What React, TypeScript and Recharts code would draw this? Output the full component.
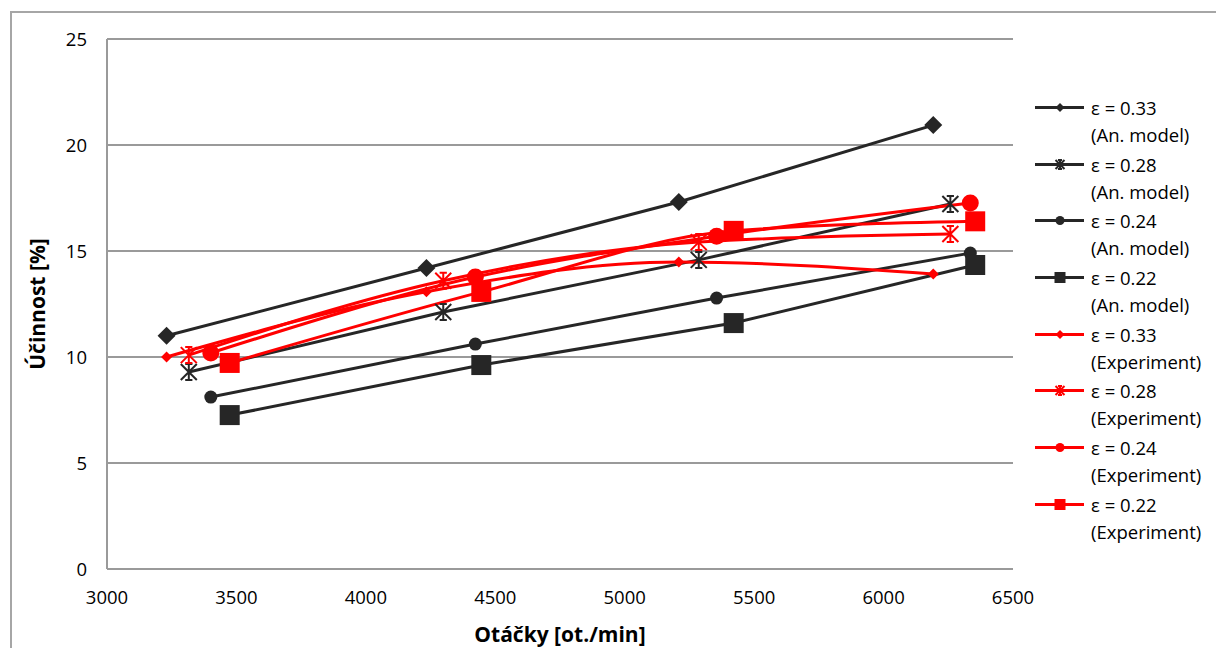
import React from 'react';
import { LineChart, Line, XAxis, YAxis, CartesianGrid } from 'recharts';

// otáčky [ot./min] a účinnost [%]
const rpm33 = [3230, 4234, 5209, 6192];
const rpm28 = [3316, 4299, 5286, 6258];
const rpm24 = [3401, 4423, 5355, 6335];
const rpm22 = [3474, 4446, 5421, 6354];

const anEff33 = [11.0, 14.2, 17.31, 20.94];
const anEff28 = [9.29, 12.12, 14.58, 17.22];
const anEff24 = [8.11, 10.61, 12.78, 14.9];
const anEff22 = [7.26, 9.62, 11.6, 14.34];

const expEff33 = [10.0, 13.08, 14.48, 13.92];
const expEff28 = [10.09, 13.6, 15.42, 15.8];
const expEff24 = [10.19, 13.77, 15.7, 17.26];
const expEff22 = [9.72, 13.07, 15.95, 16.4];

const xTicks = [3000, 3500, 4000, 4500, 5000, 5500, 6000, 6500];
const yTicks = [0, 5, 10, 15, 20, 25];

const BLACK = '#262626';
const RED = '#ff0000';

type Shape = 'diamond' | 'star' | 'circle' | 'square';

const zip = (xs: number[], ys: number[]) => xs.map((x, i) => ({ x, y: ys[i] }));

const series = [
  { name: 'ε = 0.33', note: '(An. model)', data: zip(rpm33, anEff33), color: BLACK, shape: 'diamond' as Shape, size: 9, smooth: false },
  { name: 'ε = 0.28', note: '(An. model)', data: zip(rpm28, anEff28), color: BLACK, shape: 'star' as Shape, size: 8, smooth: false },
  { name: 'ε = 0.24', note: '(An. model)', data: zip(rpm24, anEff24), color: BLACK, shape: 'circle' as Shape, size: 6.5, smooth: false },
  { name: 'ε = 0.22', note: '(An. model)', data: zip(rpm22, anEff22), color: BLACK, shape: 'square' as Shape, size: 10, smooth: false },
  { name: 'ε = 0.33', note: '(Experiment)', data: zip(rpm33, expEff33), color: RED, shape: 'diamond' as Shape, size: 5.5, smooth: true },
  { name: 'ε = 0.28', note: '(Experiment)', data: zip(rpm28, expEff28), color: RED, shape: 'star' as Shape, size: 8, smooth: true },
  { name: 'ε = 0.24', note: '(Experiment)', data: zip(rpm24, expEff24), color: RED, shape: 'circle' as Shape, size: 8.5, smooth: true },
  { name: 'ε = 0.22', note: '(Experiment)', data: zip(rpm22, expEff22), color: RED, shape: 'square' as Shape, size: 10, smooth: true },
];

function Marker({ cx, cy, shape, s, color }: { cx: number; cy: number; shape: Shape; s: number; color: string }) {
  if (shape === 'diamond') {
    return <path d={`M${cx},${cy - s}L${cx + s},${cy}L${cx},${cy + s}L${cx - s},${cy}Z`} fill={color} />;
  }
  if (shape === 'circle') {
    return <circle cx={cx} cy={cy} r={s} fill={color} />;
  }
  if (shape === 'square') {
    return <rect x={cx - s} y={cy - s} width={s * 2} height={s * 2} fill={color} />;
  }
  const h = s * 0.45;
  return (
    <path
      d={`M${cx},${cy - s}V${cy + s}M${cx - s},${cy - s}L${cx + s},${cy + s}M${cx + s},${cy - s}L${cx - s},${cy + s}M${cx - h},${cy - s}H${cx + h}M${cx - h},${cy + s}H${cx + h}`}
      stroke={color}
      strokeWidth={2}
      fill="none"
    />
  );
}

const font = '"Open Sans", sans-serif';

export default function App() {
  return (
    <div style={{ position: 'absolute', left: 0, top: 0, width: 1216, height: 648, background: '#fff', overflow: 'hidden', fontFamily: font }}>
      <div style={{ position: 'absolute', left: 10, top: 11, width: 1230, height: 660, border: '2px solid #a6a6a6' }} />
      <div style={{ position: 'absolute', left: 0, top: 0 }}>
        <LineChart width={1216} height={648} margin={{ top: 39, right: 203, bottom: 49, left: 47 }}>
          <CartesianGrid horizontal vertical={false} stroke="#9a9a9a" strokeWidth={2} />
          <XAxis
            dataKey="x"
            type="number"
            domain={[3000, 6500]}
            ticks={xTicks}
            allowDuplicatedCategory={false}
            height={30}
            tickLine={false}
            axisLine={{ stroke: '#9a9a9a', strokeWidth: 2 }}
            tick={{ fontSize: 18.5, fill: '#000', fontFamily: font }}
            tickMargin={16}
            label={{ value: 'Otáčky [ot./min]', position: 'bottom', offset: 28, style: { fontSize: 21, fontWeight: 700, fill: '#000', fontFamily: font } }}
          />
          <YAxis
            type="number"
            domain={[0, 25]}
            ticks={yTicks}
            width={60}
            tickLine={false}
            axisLine={{ stroke: '#9a9a9a', strokeWidth: 2 }}
            tick={{ fontSize: 18.5, fill: '#000', fontFamily: font }}
            tickMargin={14}
            label={{ value: 'Účinnost [%]', angle: -90, position: 'insideLeft', offset: -9, style: { textAnchor: 'middle', fontSize: 21, fontWeight: 700, fill: '#000', fontFamily: font } }}
          />
          {series.map((s, i) => (
            <Line
              key={i}
              data={s.data}
              dataKey="y"
              type={s.smooth ? 'monotone' : 'linear'}
              stroke={s.color}
              strokeWidth={3}
              isAnimationActive={false}
              dot={(p: any) => <Marker key={`${i}-${p.index}`} cx={p.cx} cy={p.cy} shape={s.shape} s={s.size} color={s.color} />}
              activeDot={false}
            />
          ))}
        </LineChart>
      </div>
      <div style={{ position: 'absolute', left: 1034, top: 94, width: 182 }}>
        {series.map((s, i) => (
          <div key={i} style={{ position: 'relative', height: 56.7, fontSize: 18.5, lineHeight: '27px', color: '#000' }}>
            <svg width={52} height={27} style={{ position: 'absolute', left: 0, top: 0 }}>
              <line x1={1} y1={13.5} x2={50} y2={13.5} stroke={s.color} strokeWidth={3} />
              <Marker cx={26} cy={13.5} shape={s.shape} s={s.shape === 'square' ? 5.5 : 4.5} color={s.color} />
            </svg>
            <div style={{ position: 'absolute', left: 57, top: 0, whiteSpace: 'nowrap' }}>
              {s.name}
              <br />
              {s.note}
            </div>
          </div>
        ))}
      </div>
    </div>
  );
}
